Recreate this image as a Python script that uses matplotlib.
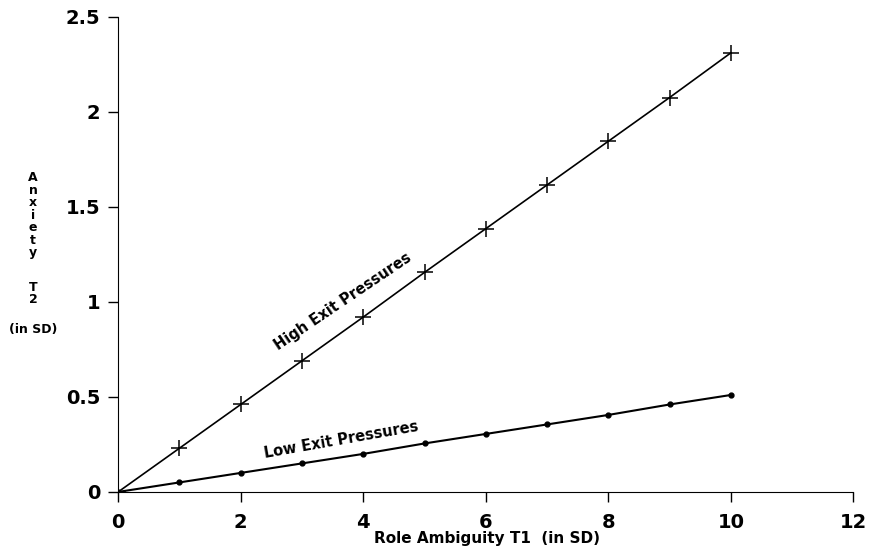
import numpy as np
import matplotlib.pyplot as plt

plt.rcParams['font.family'] = ['DejaVu Sans']

x = [0, 1, 2, 3, 4, 5, 6, 7, 8, 9, 10]
high_exit = [0, 0.23, 0.46, 0.69, 0.92, 1.155, 1.385, 1.615, 1.845, 2.075, 2.31]
low_exit = [0, 0.05, 0.10, 0.15, 0.20, 0.255, 0.305, 0.355, 0.405, 0.46, 0.51]

fig = plt.figure(figsize=(8.69, 5.59), dpi=100)
ax = fig.add_axes([0.136, 0.120, 0.846, 0.850])

ax.plot(x, high_exit, color='black', lw=1.2, marker='+', markersize=12, mew=1.1)
ax.plot(x, low_exit, color='black', lw=1.5, marker='o', markersize=3.5)

ax.set_xlim(0, 12)
ax.set_ylim(0, 2.5)
ax.set_xticks(range(0, 13, 2))
ax.set_yticks([0, 0.5, 1, 1.5, 2, 2.5])
ax.set_yticklabels(['0', '0.5', '1', '1.5', '2', '2.5'])
for s in ['top', 'right']:
    ax.spines[s].set_visible(False)
ax.tick_params(direction='out', length=7, width=1, labelsize=14)
ax.tick_params(axis='y', pad=6)
ax.tick_params(axis='x', pad=8)
for lab in ax.get_xticklabels() + ax.get_yticklabels():
    lab.set_fontweight('bold')

ax.text(3.67, 1.0, 'High Exit Pressures', rotation=34, ha='center', va='center',
        fontsize=10.5, fontweight='bold')
ax.text(3.64, 0.275, 'Low Exit Pressures', rotation=10, ha='center', va='center',
        fontsize=10.5, fontweight='bold')

fig.text(0.560, 0.036, 'Role Ambiguity T1  (in SD)', ha='center', va='center',
         fontsize=11, fontweight='bold')
fig.text(0.038, 0.615, 'A\nn\nx\ni\ne\nt\ny', ha='center', va='center',
         fontsize=9, fontweight='bold', linespacing=0.95)
fig.text(0.038, 0.475, 'T\n2', ha='center', va='center',
         fontsize=9, fontweight='bold', linespacing=0.95)
fig.text(0.038, 0.41, '(in SD)', ha='center', va='center',
         fontsize=9, fontweight='bold')

fig.savefig('out.png', dpi=100)
